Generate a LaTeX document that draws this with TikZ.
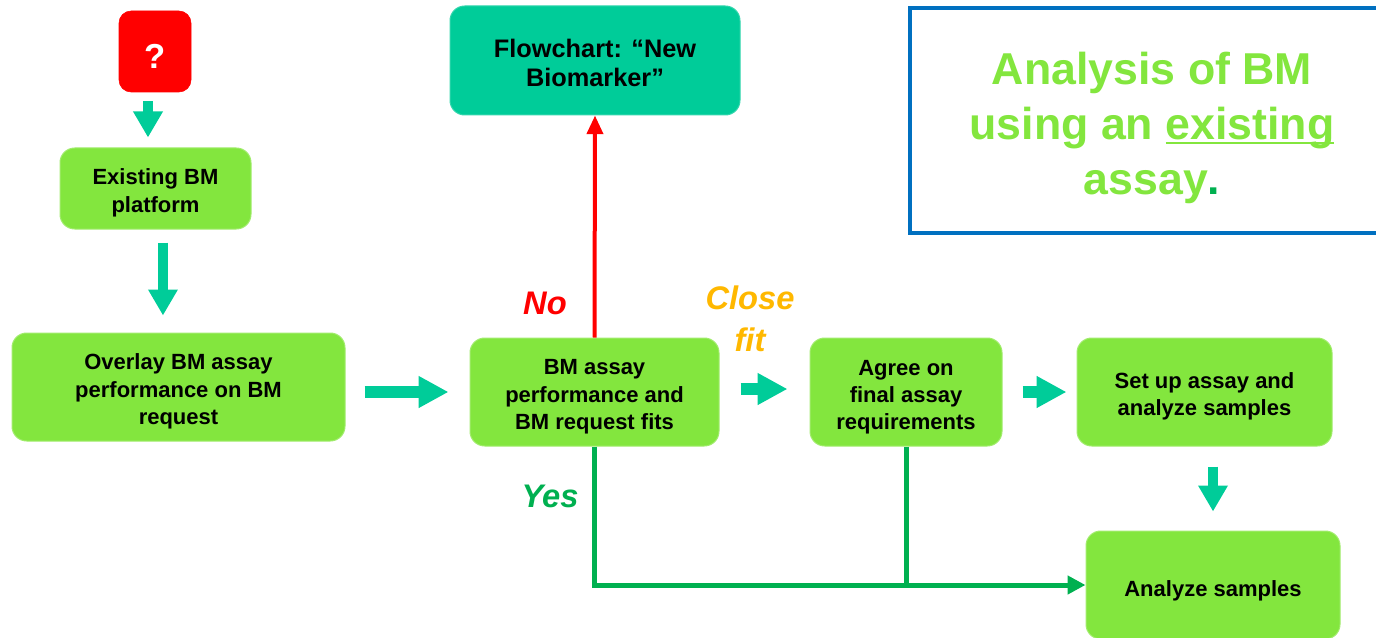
\documentclass[tikz,border=0pt]{standalone}
\usepackage{fontspec}
\setmainfont{Liberation Sans}
\usetikzlibrary{arrows.meta}

\definecolor{boxgreen}{RGB}{131,230,62}
\definecolor{arrowteal}{RGB}{0,204,153}
\definecolor{yesgreen}{RGB}{0,176,80}
\definecolor{fitorange}{RGB}{255,184,0}
\definecolor{framblue}{RGB}{0,112,192}
\definecolor{qred}{RGB}{255,0,0}

% invisible strut that lowers the text block inside a fixed-size box
\newcommand{\toppad}[1]{\rule{0pt}{#1}}
% underline set close to the baseline, in the text colour
\newcommand{\ulword}[1]{\setbox0\hbox{#1}\rlap{\rule[-3.6pt]{\wd0}{1.6pt}}\box0}

\begin{document}
\begin{tikzpicture}[x=0.75pt,y=-0.75pt,
  box/.style={draw=boxgreen!75!white, line width=0.75pt, fill=boxgreen,
    rounded corners=11pt, inner sep=0pt, align=center,
    font=\bfseries\fontsize{16.5}{20.5}\selectfont},
  blk/.style={draw=arrowteal, line width=8.5pt,
    -{Triangle[width=22.5pt,length=22.5pt]}},
  blkv/.style={draw=arrowteal, line width=7.5pt,
    -{Triangle[width=21pt,length=19.5pt]}},
  noline/.style={draw=qred, line width=3pt,
    -{Triangle[width=12pt,length=14pt]}},
  yesline/.style={draw=yesgreen, line width=3.75pt},
  lbl/.style={font=\bfseries\itshape\fontsize{24.5}{31.5}\selectfont, align=center}]

\useasboundingbox (0,0) rectangle (1376,638);
\clip (0,0) rectangle (1376,638);

% heading frame
\draw[framblue, line width=3pt] (910,8) rectangle (1400,233);
\node[font=\bfseries\fontsize{33.5}{41}\selectfont, text=boxgreen, align=center]
  (title) at (1152,128)
  {Analysis of BM\\using an \ulword{existing}\\assay{\color{yesgreen}.}};

% boxes
\node[draw=qred, fill=qred, rounded corners=9pt, minimum width=54pt,
  minimum height=60.75pt, inner sep=0pt, text=white,
  font=\bfseries\fontsize{26}{30}\selectfont] (q) at (155,51.5) {\toppad{25pt}?};
\node[box, minimum width=143.25pt, minimum height=60.75pt] (exist) at (155.5,188.5)
  {\toppad{18.5pt}Existing BM\\platform};
\node[box, minimum width=249.75pt, minimum height=81pt] (overlay) at (178.5,387)
  {\toppad{18.5pt}Overlay BM assay\\performance on BM\\request};
\node[box, minimum width=186.75pt, minimum height=81pt] (fits) at (594.5,392)
  {\toppad{18.5pt}BM assay\\performance and\\BM request fits};
\node[draw=arrowteal!80!white, line width=0.75pt, fill=arrowteal, rounded corners=11pt,
  inner sep=0pt, align=center, minimum width=217.5pt, minimum height=81.75pt,
  font=\bfseries\fontsize{19}{22}\selectfont] (flow) at (595,60.5)
  {\toppad{17pt}Flowchart: “New\\Biomarker”};
\node[box, minimum width=144pt, minimum height=81pt] (agree) at (906,392)
  {\toppad{19pt}Agree on\\final assay\\requirements};
\node[box, minimum width=191.25pt, minimum height=81pt] (setup) at (1204.5,392)
  {\toppad{18.5pt}Set up assay and\\analyze samples};
\node[box, minimum width=190.5pt, minimum height=81pt] (analyze) at (1213,585)
  {\toppad{21pt}Analyze samples};

% block arrows
\draw[blkv, shorten <=6.75pt, shorten >=7.5pt]
  ([xshift=-5.25pt]q.south) -- ([xshift=-5.25pt]q.south |- exist.north);
\draw[blkv, shorten <=9.75pt, shorten >=12.75pt]
  ([xshift=5.6pt]exist.south) -- ([xshift=5.6pt]exist.south |- overlay.north);
\draw[blk, shorten <=14.25pt, shorten >=15.75pt]
  (overlay.east |- fits.center) -- (fits.west);
\draw[blk, shorten <=15.75pt, shorten >=16.5pt]
  ([yshift=2.25pt]fits.east) -- ([yshift=2.25pt]fits.east -| agree.west);
\draw[blk, shorten <=15pt, shorten >=7.5pt]
  (agree.east) -- (setup.west);
\draw[blkv, shorten <=15pt, shorten >=14.25pt]
  (analyze.north |- setup.south) -- (analyze.north);

% decision lines
\draw[noline] (fits.north) -- (flow.south);
\draw[yesline] (agree.south) -- (agree.south |- analyze.west);
\draw[yesline, -{Triangle[width=13.5pt,length=13.5pt]}]
  (fits.south) |- (analyze.west);

% labels
\node[lbl, text=qred] (nolbl) at (545,303) {No};
\node[lbl, text=fitorange] (closelbl) at (750,319) {Close\\fit};
\node[lbl, text=yesgreen] (yeslbl) at (550,496) {Yes};
\end{tikzpicture}
\end{document}
